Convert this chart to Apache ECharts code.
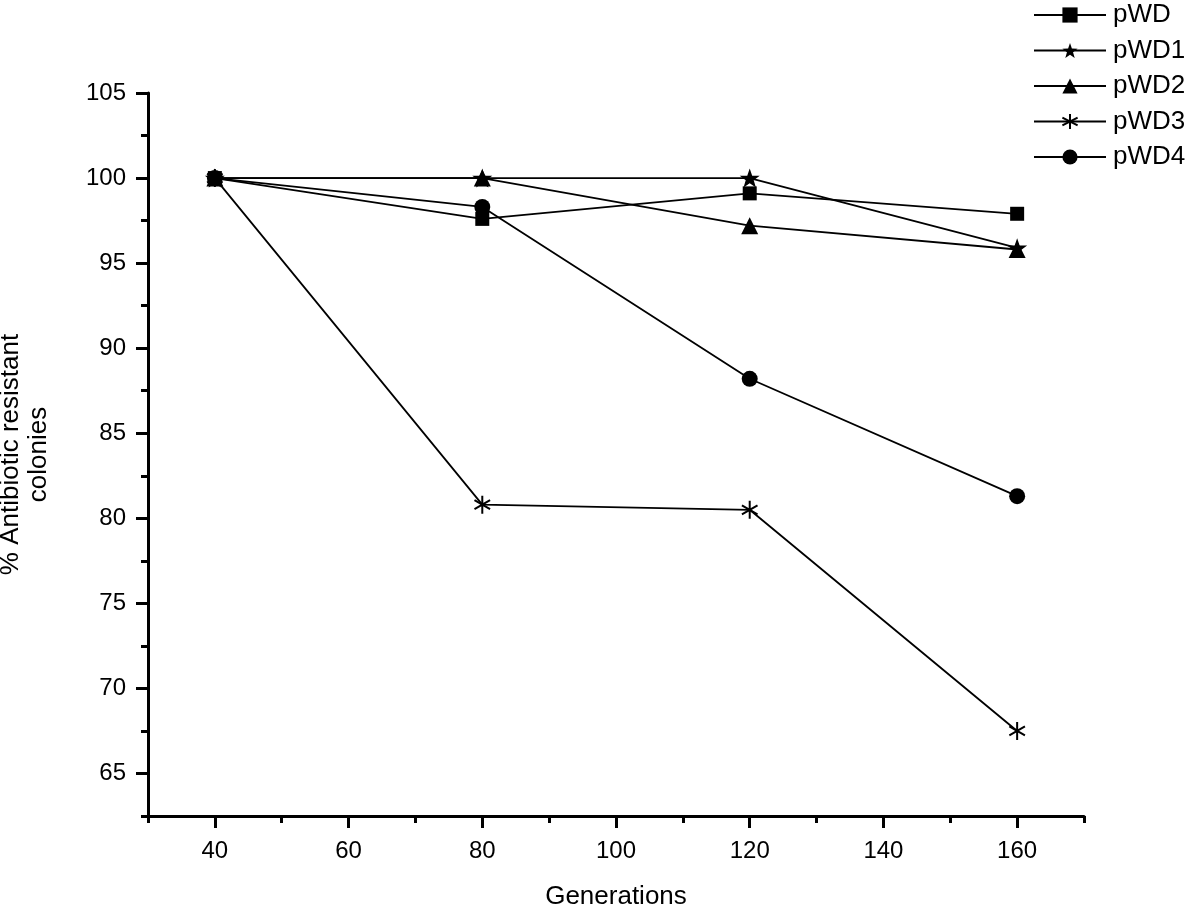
<!DOCTYPE html>
<html>
<head>
<meta charset="utf-8">
<script src="https://cdn.jsdelivr.net/npm/echarts@6/dist/echarts.min.js"></script>
<style>html,body{margin:0;padding:0;background:#fff}#c{width:1200px;height:909px}</style>
</head>
<body>
<div id="c"></div>
<script>
var generations = [40, 80, 120, 160];
var pWD  = [100, 97.6, 99.1, 97.9];
var pWD1 = [100, 100, 100, 95.9];
var pWD2 = [100, 100, 97.2, 95.8];
var pWD3 = [100, 80.8, 80.5, 67.5];
var pWD4 = [100, 98.3, 88.2, 81.3];
var seriesNames = ['pWD', 'pWD1', 'pWD2', 'pWD3', 'pWD4'];

var xMajorTicks = [40, 60, 80, 100, 120, 140, 160];
var xMinorTicks = [30, 50, 70, 90, 110, 130, 150, 170];
var yMajorTicks = [65, 70, 75, 80, 85, 90, 95, 100, 105];
var yMinorTicks = [62.5, 67.5, 72.5, 77.5, 82.5, 87.5, 92.5, 97.5, 102.5];

var FONT = 'Liberation Sans, Arial, sans-serif';
var STAR = 'path://M0,-10 L2.35,-3.24 L9.51,-3.09 L3.8,1.24 L5.88,8.09 L0,4 L-5.88,8.09 L-3.8,1.24 L-9.51,-3.09 L-2.35,-3.24 Z';
var ASTER = 'path://M0,-10 L0,10 M-8.66,-5 L8.66,5 M-8.66,5 L8.66,-5';

function pairs(vals) { return generations.map(function (g, i) { return [g, vals[i]]; }); }

var symbols = ['rect', STAR, 'triangle', ASTER, 'circle'];
var sizes = [14, 20, 17, 18, 16];
var datas = [pWD, pWD1, pWD2, pWD3, pWD4];

var series = seriesNames.map(function (n, i) {
  return {
    name: n, type: 'line', xAxisIndex: 0, yAxisIndex: 0,
    data: pairs(datas[i]),
    symbol: symbols[i], symbolSize: sizes[i], symbolKeepAspect: true,
    showAllSymbol: true,
    lineStyle: { color: '#000', width: 1.8 },
    itemStyle: { color: '#000', borderColor: '#000', borderWidth: i === 3 ? 2 : 0 },
    emphasis: { disabled: true },
    animation: false
  };
});

var chart = echarts.init(document.getElementById('c'), null, { renderer: 'canvas' });
chart.setOption({
  animation: false,
  backgroundColor: '#fff',
  grid: { left: 148, right: 116, top: 93, bottom: 93, containLabel: false, outerBoundsMode: 'none' },
  legend: {
    orient: 'vertical', left: 1028, top: -3,
    itemWidth: 72, itemHeight: 19, itemGap: 9.5,
    textStyle: { fontFamily: FONT, fontSize: 26, color: '#000', padding: [0, 0, 0, 2] },
    data: seriesNames
  },
  xAxis: [{
    type: 'value', min: 30, max: 170, interval: 10, position: 'bottom',
    name: 'Generations', nameLocation: 'middle', nameGap: 68,
    nameTextStyle: { fontFamily: FONT, fontSize: 26, color: '#000' },
    axisLine: { show: true, onZero: false, lineStyle: { color: '#000', width: 3 } },
    axisTick: { show: true, customValues: xMajorTicks, length: 12, lineStyle: { color: '#000', width: 3 } },
    axisLabel: { customValues: xMajorTicks, margin: 23, fontFamily: FONT, fontSize: 24, color: '#000' },
    splitLine: { show: false }
  }, {
    type: 'value', min: 30, max: 170, interval: 10, position: 'bottom',
    axisLine: { show: false, onZero: false },
    axisTick: { show: true, customValues: xMinorTicks, length: 7, lineStyle: { color: '#000', width: 3 } },
    axisLabel: { show: false },
    splitLine: { show: false }
  }],
  yAxis: [{
    type: 'value', min: 62.5, max: 105, interval: 2.5, position: 'left',
    name: '% Antibiotic resistant\ncolonies', nameLocation: 'middle', nameGap: 95, nameRotate: 90,
    nameTextStyle: { fontFamily: FONT, fontSize: 26, color: '#000', lineHeight: 28 },
    axisLine: { show: true, onZero: false, lineStyle: { color: '#000', width: 3 } },
    axisTick: { show: true, customValues: yMajorTicks, length: 12, lineStyle: { color: '#000', width: 3 } },
    axisLabel: { customValues: yMajorTicks, margin: 22, fontFamily: FONT, fontSize: 24, color: '#000' },
    splitLine: { show: false }
  }, {
    type: 'value', min: 62.5, max: 105, interval: 2.5, position: 'left',
    axisLine: { show: false, onZero: false },
    axisTick: { show: true, customValues: yMinorTicks, length: 7, lineStyle: { color: '#000', width: 3 } },
    axisLabel: { show: false },
    splitLine: { show: false }
  }],
  series: series
});
</script>
</body>
</html>
